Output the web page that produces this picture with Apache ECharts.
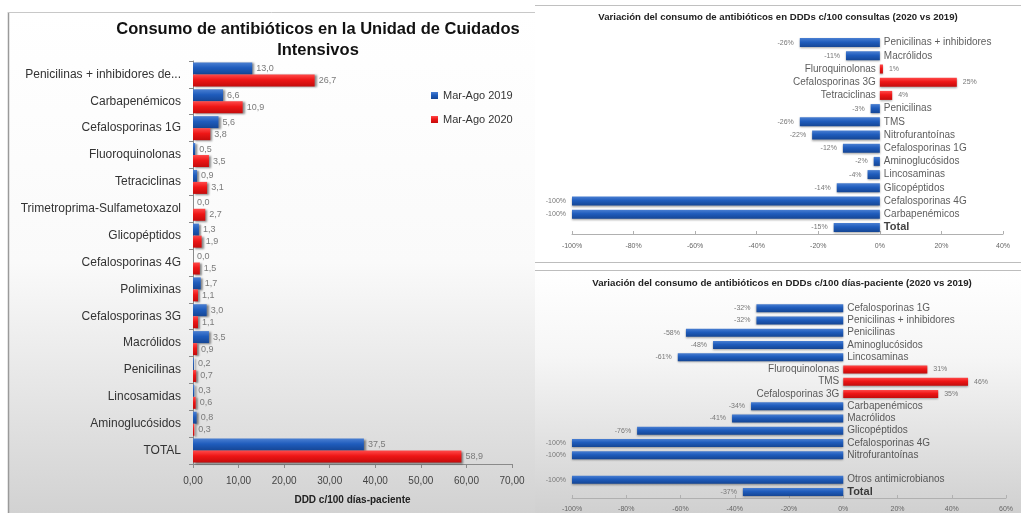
<!DOCTYPE html>
<html>
<head>
<meta charset="utf-8">
<script src="https://cdn.jsdelivr.net/npm/echarts@6/dist/echarts.min.js"></script>
<style>
  html, body { margin: 0; padding: 0; background: #ffffff; }
  #chart { width: 1021px; height: 513px; }
</style>
</head>
<body>
<div id="chart"></div>
<script>
// ICU antibiotic consumption, DDD per 100 patient-days
const icuCategories = [
  'Penicilinas + inhibidores de...', 'Carbapenémicos', 'Cefalosporinas 1G', 'Fluoroquinolonas',
  'Tetraciclinas', 'Trimetroprima-Sulfametoxazol', 'Glicopéptidos', 'Cefalosporinas 4G',
  'Polimixinas', 'Cefalosporinas 3G', 'Macrólidos', 'Penicilinas', 'Lincosamidas',
  'Aminoglucósidos', 'TOTAL'
];
const icu2019 = [13.0, 6.6, 5.6, 0.5, 0.9, 0.0, 1.3, 0.0, 1.7, 3.0, 3.5, 0.2, 0.3, 0.8, 37.5];
const icu2020 = [26.7, 10.9, 3.8, 3.5, 3.1, 2.7, 1.9, 1.5, 1.1, 1.1, 0.9, 0.7, 0.6, 0.3, 58.9];
const icuTicks = [0, 10, 20, 30, 40, 50, 60, 70];

// Variation per 100 consultations (%)
const consultCategories = [
  'Penicilinas + inhibidores', 'Macrólidos', 'Fluroquinolonas', 'Cefalosporinas 3G',
  'Tetraciclinas', 'Penicilinas', 'TMS', 'Nitrofurantoínas', 'Cefalosporinas 1G',
  'Aminoglucósidos', 'Lincosaminas', 'Glicopéptidos', 'Cefalosporinas 4G',
  'Carbapenémicos', 'Total'
];
const consultChange = [-26, -11, 1, 25, 4, -3, -26, -22, -12, -2, -4, -14, -100, -100, -15];

// Variation per 100 patient-days (%); the empty entry is a spacer row
const patientCategories = [
  'Cefalosporinas 1G', 'Penicilinas + inhibidores', 'Penicilinas', 'Aminoglucósidos',
  'Lincosaminas', 'Fluroquinolonas', 'TMS', 'Cefalosporinas 3G', 'Carbapenémicos',
  'Macrólidos', 'Glicopéptidos', 'Cefalosporinas 4G', 'Nitrofurantoínas', '',
  'Otros antimicrobianos', 'Total'
];
const patientChange = [-32, -32, -58, -48, -61, 31, 46, 35, -34, -41, -76, -100, -100, null, -100, -37];

const FONT = '"Liberation Sans", Arial, sans-serif';

function vGrad(top, mid, bottom) {
  return new echarts.graphic.LinearGradient(0, 0, 0, 1, [
    { offset: 0, color: top }, { offset: 0.45, color: mid }, { offset: 1, color: bottom }
  ]);
}
const BLUE = vGrad('#4a7fd2', '#1f5cbc', '#154695');
const RED = vGrad('#ff4a4a', '#ee1616', '#c40c0c');
const comma = (v, d) => v.toFixed(d).replace('.', ',');

// Diverging bars: colour by sign, value label at the bar's far end
function divergingBars(values) {
  return values.map(v => v === null ? '-' : {
    value: v,
    itemStyle: { color: v < 0 ? BLUE : RED },
    label: { position: v < 0 ? 'left' : 'right' }
  });
}
// Category names sit on the zero line, on the side opposite the bar
function zeroLabels(cats, values) {
  const out = [];
  cats.forEach((c, i) => {
    if (c === '' || values[i] === null) return;
    const neg = values[i] < 0;
    const isTotal = c === 'Total';
    out.push({
      value: [0, c],
      label: {
        position: neg ? 'right' : 'left',
        distance: 4,
        fontSize: isTotal ? 11 : 10,
        fontWeight: isTotal ? 'bold' : 'normal',
        color: isTotal ? '#111' : '#333'
      }
    });
  });
  return out;
}

const chart = echarts.init(document.getElementById('chart'), null, { renderer: 'canvas' });

const option = {
  animation: false,
  textStyle: { fontFamily: FONT },
  graphic: [
    // panel backgrounds and frame lines
    { type: 'rect', z: -10, shape: { x: 8, y: 12, width: 527, height: 501 },
      style: { fill: new echarts.graphic.LinearGradient(0, 0, 0, 1, [
        { offset: 0, color: '#ffffff' }, { offset: 0.5, color: '#fafafa' }, { offset: 1, color: '#d2d2d2' }]) } },
    { type: 'line', z: -9, shape: { x1: 8.5, y1: 12, x2: 8.5, y2: 513 }, style: { stroke: '#9a9a9a', lineWidth: 1.5 } },
    { type: 'line', z: -9, shape: { x1: 8, y1: 12.5, x2: 535, y2: 12.5 }, style: { stroke: '#c8c8c8', lineWidth: 1 } },
    { type: 'line', z: -9, shape: { x1: 535, y1: 5.5, x2: 1021, y2: 5.5 }, style: { stroke: '#c0c0c0', lineWidth: 1 } },
    { type: 'line', z: -9, shape: { x1: 535, y1: 262.5, x2: 1021, y2: 262.5 }, style: { stroke: '#bdbdbd', lineWidth: 1 } },
    { type: 'rect', z: -10, shape: { x: 535, y: 271, width: 486, height: 242 },
      style: { fill: new echarts.graphic.LinearGradient(0, 0, 0, 1, [
        { offset: 0, color: '#ffffff' }, { offset: 0.35, color: '#f6f6f6' }, { offset: 1, color: '#d0d0d0' }]) } },
    { type: 'line', z: -9, shape: { x1: 535, y1: 270.5, x2: 1021, y2: 270.5 }, style: { stroke: '#bdbdbd', lineWidth: 1 } },
    // titles
    { type: 'text', x: 318, y: 29, style: { text: 'Consumo de antibióticos en la Unidad de Cuidados',
      font: 'bold 16.5px ' + FONT, fill: '#111', align: 'center', verticalAlign: 'middle' } },
    { type: 'text', x: 318, y: 50, style: { text: 'Intensivos',
      font: 'bold 16.5px ' + FONT, fill: '#111', align: 'center', verticalAlign: 'middle' } },
    { type: 'text', x: 778, y: 17, style: { text: 'Variación del consumo de antibióticos en DDDs c/100 consultas (2020 vs 2019)',
      font: 'bold 9.6px ' + FONT, fill: '#222', align: 'center', verticalAlign: 'middle' } },
    { type: 'text', x: 782, y: 283, style: { text: 'Variación del consumo de antibióticos en DDDs c/100 días-paciente (2020 vs 2019)',
      font: 'bold 9.7px ' + FONT, fill: '#222', align: 'center', verticalAlign: 'middle' } }
  ],
  legend: {
    data: ['Mar-Ago 2019', 'Mar-Ago 2020'],
    orient: 'vertical', left: 426, top: 85, itemWidth: 7, itemHeight: 7, itemGap: 13,
    icon: 'rect',
    textStyle: { fontSize: 11, color: '#333', fontFamily: FONT }
  },
  grid: [
    { left: 193, top: 61, width: 319, height: 403 },
    { left: 572, top: 36, width: 431, height: 198 },
    { left: 572, top: 302, width: 434, height: 199 }
  ],
  xAxis: [
    { gridIndex: 0, type: 'value', min: icuTicks[0], max: icuTicks[icuTicks.length - 1], interval: 10,
      splitLine: { show: false },
      axisLine: { show: true, lineStyle: { color: '#8a8a8a' } },
      axisTick: { show: true, length: 4, lineStyle: { color: '#8a8a8a' } },
      axisLabel: { fontSize: 10, color: '#444', margin: 12, formatter: v => comma(v, 2) },
      name: 'DDD c/100 días-paciente', nameLocation: 'middle', nameGap: 31,
      nameTextStyle: { fontSize: 10, fontWeight: 'bold', color: '#222' } },
    { gridIndex: 1, type: 'value', min: -100, max: 40, interval: 20,
      splitLine: { show: false },
      axisLine: { show: true, onZero: false, lineStyle: { color: '#b0b0b0' } },
      axisTick: { show: true, inside: true, length: 3, lineStyle: { color: '#b0b0b0' } },
      axisLabel: { fontSize: 7, color: '#666', margin: 9, formatter: v => v + '%' } },
    { gridIndex: 2, type: 'value', min: -100, max: 60, interval: 20,
      splitLine: { show: false },
      axisLine: { show: true, onZero: false, lineStyle: { color: '#b0b0b0' } },
      axisTick: { show: true, inside: true, length: 3, lineStyle: { color: '#b0b0b0' } },
      axisLabel: { fontSize: 7, color: '#666', margin: 8, formatter: v => v + '%' } }
  ],
  yAxis: [
    { gridIndex: 0, type: 'category', inverse: true, data: icuCategories,
      axisLine: { show: true, lineStyle: { color: '#8a8a8a' } },
      axisTick: { show: true, length: 4, lineStyle: { color: '#8a8a8a' } },
      axisLabel: { fontSize: 12, color: '#333', margin: 12 } },
    { gridIndex: 1, type: 'category', inverse: true, data: consultCategories, show: false },
    { gridIndex: 2, type: 'category', inverse: true, data: patientCategories, show: false }
  ],
  series: [
    { name: 'Mar-Ago 2019', type: 'bar', xAxisIndex: 0, yAxisIndex: 0, data: icu2019,
      barWidth: 12, barGap: '0%', itemStyle: { color: BLUE, shadowColor: 'rgba(0,0,0,0.45)', shadowBlur: 2, shadowOffsetX: 2, shadowOffsetY: 1 },
      label: { show: true, position: 'right', distance: 4, fontSize: 9, color: '#7a7a7a', formatter: p => comma(p.value, 1) } },
    { name: 'Mar-Ago 2020', type: 'bar', xAxisIndex: 0, yAxisIndex: 0, data: icu2020,
      barWidth: 12, barGap: '0%', itemStyle: { color: RED, shadowColor: 'rgba(0,0,0,0.45)', shadowBlur: 2, shadowOffsetX: 2, shadowOffsetY: 1 },
      label: { show: true, position: 'right', distance: 4, fontSize: 9, color: '#7a7a7a', formatter: p => comma(p.value, 1) } },

    { name: 'consultas', type: 'bar', xAxisIndex: 1, yAxisIndex: 1, data: divergingBars(consultChange),
      barWidth: 9, itemStyle: { shadowColor: 'rgba(0,0,0,0.35)', shadowBlur: 2, shadowOffsetY: 1 },
      label: { show: true, distance: 6, fontSize: 7, color: '#777', formatter: p => p.value + '%' } },
    { name: 'consultas-nombres', type: 'scatter', xAxisIndex: 1, yAxisIndex: 1, symbolSize: 0, silent: true,
      data: zeroLabels(consultCategories, consultChange),
      label: { show: true, formatter: p => p.value[1] } },

    { name: 'dias-paciente', type: 'bar', xAxisIndex: 2, yAxisIndex: 2, data: divergingBars(patientChange),
      barWidth: 8, itemStyle: { shadowColor: 'rgba(0,0,0,0.35)', shadowBlur: 2, shadowOffsetY: 1 },
      label: { show: true, distance: 6, fontSize: 7, color: '#777', formatter: p => p.value + '%' } },
    { name: 'dias-paciente-nombres', type: 'scatter', xAxisIndex: 2, yAxisIndex: 2, symbolSize: 0, silent: true,
      data: zeroLabels(patientCategories, patientChange),
      label: { show: true, formatter: p => p.value[1] } }
  ]
};

chart.setOption(option);
</script>
</body>
</html>
